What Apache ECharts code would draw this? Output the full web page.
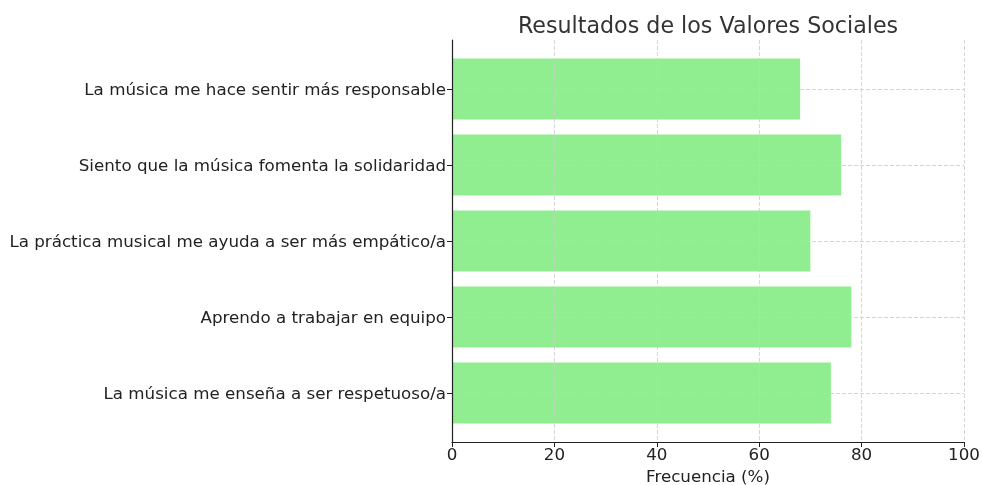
<!DOCTYPE html>
<html>
<head>
<meta charset="utf-8">
<script src="https://cdn.jsdelivr.net/npm/echarts@6/dist/echarts.min.js"></script>
<style>html,body{margin:0;padding:0;background:#fff}#c{width:982px;height:485px}</style>
</head>
<body>
<div id="c"></div>
<script>
var categories = [
  "La música me enseña a ser respetuoso/a",
  "Aprendo a trabajar en equipo",
  "La práctica musical me ayuda a ser más empático/a",
  "Siento que la música fomenta la solidaridad",
  "La música me hace sentir más responsable"
];
var values = [74, 78, 70, 76, 68];
var xTicks = [0, 20, 40, 60, 80, 100];
var titleText = "Resultados de los Valores Sociales";
var xName = "Frecuencia (%)";

var font = "DejaVu Sans";
var fs = 16.7;
var chart = echarts.init(document.getElementById('c'), null, {renderer: 'canvas'});
var gridLineStyle = {color: '#cccccc', type: [4, 2], width: 0.8};
chart.setOption({
  animation: false,
  backgroundColor: '#ffffff',
  title: {
    text: titleText, left: 703, top: 11, textAlign: 'center',
    textStyle: {fontFamily: font, fontSize: 22.2, fontWeight: 'normal', color: '#333333'}
  },
  grid: [
    {left: 452, right: 18, top: 51, bottom: 54, outerBoundsMode: 'none', containLabel: false},
    {left: 452, right: 18, top: 40, bottom: 43, outerBoundsMode: 'none', containLabel: false}
  ],
  xAxis: [
    {gridIndex: 0, type: 'value', min: 0, max: 100, show: false},
    {gridIndex: 1, type: 'value', min: xTicks[0], max: xTicks[xTicks.length - 1], interval: 20, z: 10,
     name: xName, nameLocation: 'middle', nameGap: 26,
     nameTextStyle: {fontFamily: font, fontSize: fs, color: '#222222'},
     axisLine: {show: true, lineStyle: {color: '#222222', width: 1.2}},
     axisTick: {show: true, length: 5, lineStyle: {color: '#222222'}},
     axisLabel: {fontFamily: font, fontSize: fs, color: '#222222', margin: 5},
     splitLine: {show: true, lineStyle: gridLineStyle}}
  ],
  yAxis: [
    {gridIndex: 0, type: 'category', data: categories, z: 10,
     axisLine: {show: false},
     axisTick: {show: true, alignWithLabel: true, length: 5, lineStyle: {color: '#222222'}},
     axisLabel: {fontFamily: font, fontSize: fs, color: '#222222', margin: 6,
       formatter: function (v) { return '{a|' + v + '}'; },
       rich: {a: {fontFamily: font, fontSize: fs, color: '#222222', padding: [4, 0, 0, 0]}}},
     splitLine: {show: false}},
    {gridIndex: 1, type: 'value', min: 0, max: 1, z: 10,
     axisLine: {show: true, lineStyle: {color: '#222222', width: 1.2}},
     axisTick: {show: false}, axisLabel: {show: false}, splitLine: {show: false}}
  ],
  series: [{
    type: 'bar', xAxisIndex: 0, yAxisIndex: 0, z: 1,
    data: values, barWidth: '80%',
    itemStyle: {color: '#90ee90'},
    markLine: {
      silent: true, symbol: 'none', z: 5, label: {show: false},
      lineStyle: gridLineStyle,
      data: categories.map(function (c) { return {yAxis: c}; })
    }
  }]
});
</script>
</body>
</html>
